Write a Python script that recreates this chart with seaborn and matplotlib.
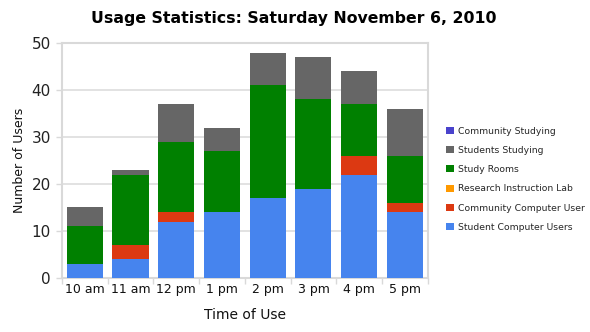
import matplotlib
matplotlib.use("Agg")
import matplotlib.pyplot as plt
import seaborn as sns
import numpy as np
from matplotlib.patches import Patch

times = ["10 am", "11 am", "12 pm", "1 pm", "2 pm", "3 pm", "4 pm", "5 pm"]
student_computer = [3, 4, 12, 14, 17, 19, 22, 14]
community_computer = [0, 3, 2, 0, 0, 0, 4, 2]
research_lab = [0, 0, 0, 0, 0, 0, 0, 0]
study_rooms = [8, 15, 15, 13, 24, 19, 11, 10]
students_studying = [4, 1, 8, 5, 7, 9, 7, 10]
community_studying = [0, 0, 0, 0, 0, 0, 0, 0]

series = [
    ("Student Computer Users", student_computer, "#4684EE"),
    ("Community Computer User", community_computer, "#DC3912"),
    ("Research Instruction Lab", research_lab, "#FF9900"),
    ("Study Rooms", study_rooms, "#008000"),
    ("Students Studying", students_studying, "#666666"),
    ("Community Studying", community_studying, "#4942CC"),
]

sns.set_theme(style="white")
plt.rcParams['font.family'] = ['DejaVu Sans']

fig = plt.figure(figsize=(5.9, 3.32), dpi=100)
ax = fig.add_axes([0.105, 0.163, 0.62, 0.707])

bottom = np.zeros(len(times))
for name, vals, color in series:
    sns.barplot(x=times, y=vals, bottom=bottom, color=color, width=0.79,
                ax=ax, linewidth=0, saturation=1, zorder=3)
    bottom = bottom + np.array(vals)

ax.set_ylim(0, 50)
ax.set_xlim(-0.5, len(times) - 0.5)
ax.set_yticks([0, 10, 20, 30, 40, 50])
ax.yaxis.grid(True, color="#dddddd", linewidth=1.2, zorder=0)
ax.set_axisbelow(True)
for s in ax.spines.values():
    s.set_color("#d9d9d9")
    s.set_linewidth(1.5)

ax.tick_params(axis="x", length=0, labelsize=9, pad=4, colors="#111111")
ax.tick_params(axis="y", length=4, width=1, color="#d9d9d9", labelsize=11, pad=4, colors="#222222", left=True)
ax.set_xticks(np.arange(-0.5, len(times) + 0.5, 1), minor=True)
ax.tick_params(axis="x", which="minor", length=4, width=1, color="#d9d9d9", bottom=True)

ax.set_xlabel("Time of Use", fontsize=10, color="#111111", labelpad=8)
ax.set_ylabel("Number of Users", fontsize=9, color="#111111", labelpad=4)

fig.text(0.498, 0.945, "Usage Statistics: Saturday November 6, 2010",
         ha="center", va="center", fontsize=11.3, fontweight="bold", color="#000000")

handles = [Patch(facecolor=c, edgecolor="none", label=n) for n, _, c in reversed(series)]
leg = ax.legend(handles=handles, loc="upper left", bbox_to_anchor=(1.04, 0.66),
                frameon=False, fontsize=6.7, handlelength=0.8, handleheight=0.8,
                handletextpad=0.5, labelspacing=1.1, borderaxespad=0)

fig.savefig("out.png", dpi=100)
